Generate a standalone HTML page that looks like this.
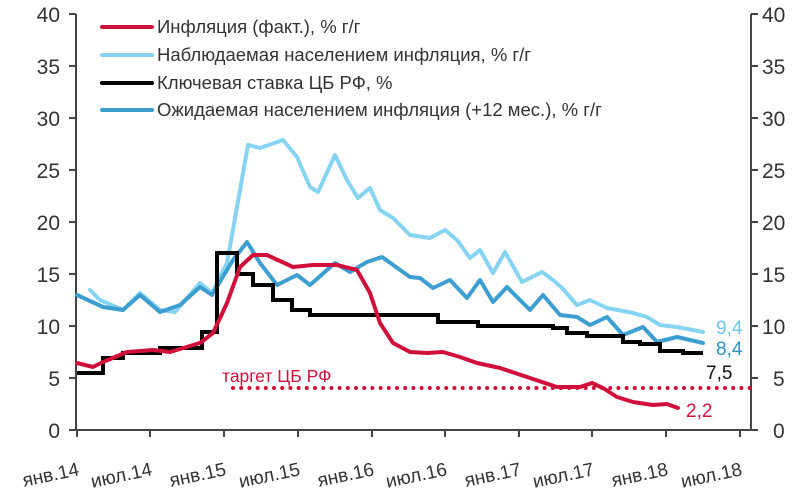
<!DOCTYPE html>
<html><head><meta charset="utf-8"><style>
body{margin:0;background:#fff}
svg{display:block}
text{font-family:"Liberation Sans","DejaVu Sans",sans-serif;fill:#333}
</style></head><body>
<svg width="800" height="495" viewBox="0 0 800 495" xmlns="http://www.w3.org/2000/svg">
<g stroke="#444" stroke-width="2" fill="none">
<line x1="76" y1="14" x2="76" y2="431"/>
<line x1="751" y1="14" x2="751" y2="431"/>
<line x1="70" y1="430" x2="751" y2="430"/>
<path d="M69 14H76M69 66H76M69 118H76M69 170H76M69 222H76M69 274H76M69 326H76M69 378H76M69 430H76"/>
<path d="M751 14H758M751 66H758M751 118H758M751 170H758M751 222H758M751 274H758M751 326H758M751 378H758M751 430H758"/>
<path d="M77 430V437M150 430V437M224 430V437M298 430V437M372 430V437M445 430V437M519 430V437M592 430V437M666 430V437M740 430V437"/>
</g>
<g font-size="21" text-anchor="end">
<text x="60" y="22">40</text><text x="60" y="74">35</text><text x="60" y="126">30</text><text x="60" y="178">25</text><text x="60" y="230">20</text><text x="60" y="282">15</text><text x="60" y="334">10</text><text x="60" y="386">5</text><text x="60" y="438">0</text>
</g>
<g font-size="21">
<text x="762" y="22">40</text><text x="762" y="74">35</text><text x="762" y="126">30</text><text x="762" y="178">25</text><text x="762" y="230">20</text><text x="762" y="282">15</text><text x="762" y="334">10</text><text x="773" y="386">5</text><text x="773" y="438">0</text>
</g>
<g font-size="19" text-anchor="end">
<text transform="translate(80,475) rotate(-12)">янв.14</text>
<text transform="translate(153,475) rotate(-12)">июл.14</text>
<text transform="translate(227,475) rotate(-12)">янв.15</text>
<text transform="translate(301,475) rotate(-12)">июл.15</text>
<text transform="translate(375,475) rotate(-12)">янв.16</text>
<text transform="translate(448,475) rotate(-12)">июл.16</text>
<text transform="translate(522,475) rotate(-12)">янв.17</text>
<text transform="translate(595,475) rotate(-12)">июл.17</text>
<text transform="translate(669,475) rotate(-12)">янв.18</text>
<text transform="translate(743,475) rotate(-12)">июл.18</text>
</g>
<line x1="233" y1="388" x2="750" y2="388" stroke="#d0103a" stroke-width="4" stroke-dasharray="0 8.2" stroke-linecap="round"/>
<text x="222" y="382" font-size="17.5" style="fill:#d0103a">таргет ЦБ РФ</text>
<g fill="none" stroke-width="4" stroke-linejoin="round" stroke-linecap="round">
<polyline stroke="#86d3f2" points="90,290 100,300 123,310 140,293 160,310 175,312 200,283 212,293 227,263 237,207 248,145 260,148 283,140 297,157 310,187 318,192 335,155 347,180 358,198 370,188 380,210 393,218 410,235 430,238 445,230 457,240 470,258 480,250 493,273 505,252 522,282 542,272 553,280 562,288 577,305 590,300 607,308 633,313 647,317 660,325 677,327 703,332"/>
<polyline stroke="#3d9fd0" points="77,295 103,307 123,310 140,295 160,312 180,305 200,287 212,295 233,260 247,242 260,263 277,285 297,275 310,285 335,263 350,272 367,262 382,257 410,277 420,278 433,288 450,280 467,298 480,280 493,302 507,287 530,310 543,295 560,315 577,317 590,325 607,317 623,335 643,327 657,342 677,337 703,343"/>
<polyline stroke="#000" stroke-linejoin="miter" stroke-linecap="butt" points="77,373 103,373 103,358 123,358 123,353 160,353 160,348 202,348 202,332 217,332 217,253 237,253 237,274 253,274 253,285 273,285 273,300 292,300 292,310 310,310 310,315 438,315 438,322 478,322 478,326 553,326 553,328 567,328 567,333 587,333 587,336 623,336 623,342 640,342 640,344 660,344 660,351 683,351 683,353 703,353"/>
<polyline stroke="#d0103a" points="77,363 93,367 103,362 127,352 153,350 170,352 200,343 213,333 227,303 240,267 253,255 267,255 293,267 313,265 337,265 357,270 370,293 380,323 393,343 410,352 427,353 443,352 460,357 477,363 500,368 527,377 557,387 580,387 592,383 603,388 617,397 633,402 653,405 667,404 678,408"/>
</g>
<g font-size="19">
<text x="716" y="334" style="fill:#6cc8ee">9,4</text>
<text x="716" y="355" style="fill:#2f8fc0">8,4</text>
<text x="706" y="379" style="fill:#111">7,5</text>
<text x="686" y="417" style="fill:#d0103a">2,2</text>
</g>
<g stroke-width="4" stroke-linecap="round">
<line x1="102" y1="27" x2="152" y2="27" stroke="#d0103a"/>
<line x1="102" y1="55" x2="152" y2="55" stroke="#86d3f2"/>
<line x1="102" y1="83" x2="152" y2="83" stroke="#000"/>
<line x1="102" y1="110" x2="152" y2="110" stroke="#3d9fd0"/>
</g>
<g font-size="18.5" style="fill:#222">
<text x="157" y="33">Инфляция (факт.), % г/г</text>
<text x="157" y="61">Наблюдаемая населением инфляция, % г/г</text>
<text x="157" y="89">Ключевая ставка ЦБ РФ, %</text>
<text x="157" y="116">Ожидаемая населением инфляция (+12 мес.), % г/г</text>
</g>
</svg>
</body></html>
